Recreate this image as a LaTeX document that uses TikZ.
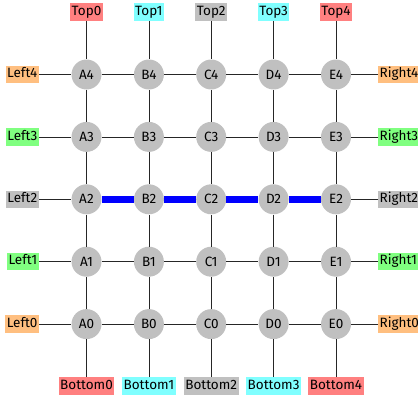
\documentclass[tikz,border=0pt]{standalone}
\usepackage{fontspec}
\setmainfont{Fira Sans}
\definecolor{lred}{RGB}{255,128,128}
\definecolor{lcyan}{RGB}{128,255,255}
\definecolor{lgray}{RGB}{192,192,192}
\definecolor{lorange}{RGB}{255,191,128}
\definecolor{lgreen}{RGB}{128,255,128}
\begin{document}
\begin{tikzpicture}[x=1pt,y=-1pt,
  cell/.style={circle,fill=lgray,minimum size=30pt,inner sep=0pt,font=\fontsize{13.5}{15}\selectfont},
  lab/.style={inner xsep=1.5pt,inner ysep=3pt,text height=9pt,text depth=2.5pt,font=\fontsize{13.5}{15}\selectfont},
  wire/.style={draw=black!85,line width=0.7pt},
  bus/.style={draw=blue,line width=6.5pt}]
\useasboundingbox (0,0) rectangle (418,399);
\def\colx{{86.5,148.9,211.2,273.6,336}}
\def\rowy{{324.1,261.7,199.3,136.9,74.5}}
\foreach \c [count=\i from 0] in {A,B,C,D,E}{
  \foreach \r in {0,...,4}{
    \pgfmathsetmacro{\xx}{\colx[\i]}
    \pgfmathsetmacro{\yy}{\rowy[\r]}
    \node[cell] (\c\r) at (\xx,\yy) {\c\r};
  }
}
% labels
\node[lab,fill=lred] (T0) at (86.5,12) {Top0};
\node[lab,fill=lcyan] (T1) at (148.9,12) {Top1};
\node[lab,fill=lgray] (T2) at (211.2,12) {Top2};
\node[lab,fill=lcyan] (T3) at (273.6,12) {Top3};
\node[lab,fill=lred] (T4) at (336,12) {Top4};
\node[lab,fill=lred] (Bt0) at (86.5,386) {Bottom0};
\node[lab,fill=lcyan] (Bt1) at (148.9,386) {Bottom1};
\node[lab,fill=lgray] (Bt2) at (211.2,386) {Bottom2};
\node[lab,fill=lcyan] (Bt3) at (273.6,386) {Bottom3};
\node[lab,fill=lred] (Bt4) at (336,386) {Bottom4};
\node[lab,fill=lorange,anchor=east] (L4) at (39,74.5) {Left4};
\node[lab,fill=lgreen,anchor=east] (L3) at (39,136.9) {Left3};
\node[lab,fill=lgray,anchor=east] (L2) at (39,199.3) {Left2};
\node[lab,fill=lgreen,anchor=east] (L1) at (39,261.7) {Left1};
\node[lab,fill=lorange,anchor=east] (L0) at (39,324.1) {Left0};
\node[lab,fill=lorange,anchor=west] (R4) at (378,74.5) {Right4};
\node[lab,fill=lgreen,anchor=west] (R3) at (378,136.9) {Right3};
\node[lab,fill=lgray,anchor=west] (R2) at (378,199.3) {Right2};
\node[lab,fill=lgreen,anchor=west] (R1) at (378,261.7) {Right1};
\node[lab,fill=lorange,anchor=west] (R0) at (378,324.1) {Right0};
% grid wires
\foreach \r in {0,1,3,4}{
  \draw[wire] (A\r) -- (B\r);
  \draw[wire] (B\r) -- (C\r);
  \draw[wire] (C\r) -- (D\r);
  \draw[wire] (D\r) -- (E\r);
}
\foreach \c in {A,B,C,D,E}{
  \draw[wire] (\c0) -- (\c1);
  \draw[wire] (\c1) -- (\c2);
  \draw[wire] (\c2) -- (\c3);
  \draw[wire] (\c3) -- (\c4);
}
\draw[bus] (A2) -- (B2);
\draw[bus] (B2) -- (C2);
\draw[bus] (C2) -- (D2);
\draw[bus] (D2) -- (E2);
% boundary wires
\foreach \c [count=\i from 0] in {A,B,C,D,E}{
  \draw[wire] (T\i) -- (\c4);
  \draw[wire] (Bt\i) -- (\c0);
}
\foreach \r in {0,...,4}{
  \draw[wire] (L\r) -- (A\r);
  \draw[wire] (R\r) -- (E\r);
}
\end{tikzpicture}
\end{document}
